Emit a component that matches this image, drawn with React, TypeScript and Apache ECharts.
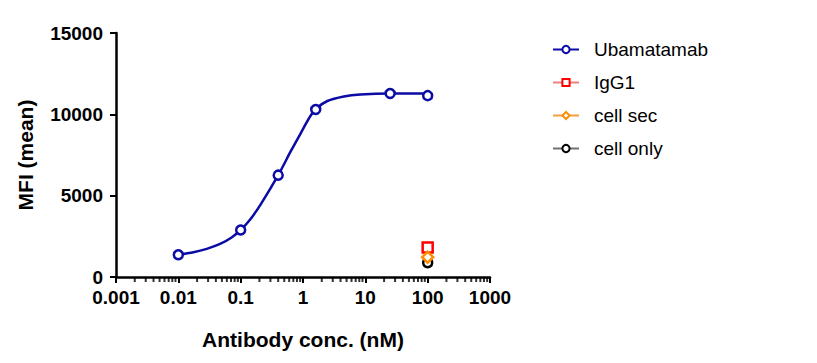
import React, { useEffect, useRef } from "react";
import * as echarts from "echarts";

// measured data points
const concentrations = [0.01, 0.1, 0.4, 1.6, 25, 100];
const ubamatamab = [1370, 2890, 6260, 10300, 11280, 11150];
const igg1 = [[100, 1820]];
const cellSec = [[100, 1220]];
const cellOnly = [[100, 880]];

// fitted curve
const fitX = [0.01, 0.0175, 0.0286, 0.0467, 0.0715, 0.1, 0.14, 0.212, 0.4, 0.64, 0.923, 1.25, 1.6, 2.46, 4.52, 8.34, 25, 100];
const fitY = [1370, 1520, 1730, 2030, 2430, 2890, 3500, 4500, 6260, 7750, 8850, 9760, 10330, 10820, 11100, 11220, 11280, 11280];

const yTicks = { min: 0, max: 15000, interval: 5000 };
const xRange = { min: 0.001, max: 1000 };
const decades = [0.001, 0.01, 0.1, 1, 10, 100];
const minorFactors = [2, 3, 4, 5, 6, 7, 8, 9];

const minorTicks: number[][] = [];
decades.forEach((d) => minorFactors.forEach((f) => minorTicks.push([+(d * f).toPrecision(2), 0])));

const FONT = "Liberation Sans, Arial, sans-serif";

export default function App() {
  const ref = useRef<HTMLDivElement>(null);
  useEffect(() => {
    if (!ref.current) return;
    const chart = echarts.init(ref.current, null, { renderer: "svg" });
    const blue = "#0b0ba6";
    chart.setOption({
      animation: false,
      backgroundColor: "#ffffff",
      textStyle: { fontFamily: FONT },
      grid: { left: 108, top: 25, width: 374, height: 249, containLabel: false },
      legend: {
        data: [
          { name: "Ubamatamab", lineStyle: { color: blue, width: 2, opacity: 1 } },
          { name: "IgG1" },
          { name: "cell sec" },
          { name: "cell only" },
        ],
        orient: "vertical",
        left: 539,
        top: 27,
        itemWidth: 26,
        itemHeight: 9,
        itemGap: 14,
        textStyle: { fontSize: 19, color: "#000", fontFamily: FONT, padding: [0, 0, 0, 10] },
      },
      xAxis: {
        type: "log",
        logBase: 10,
        min: xRange.min,
        max: xRange.max,
        name: "Antibody conc. (nM)",
        nameLocation: "middle",
        nameGap: 52,
        nameTextStyle: { fontSize: 21, fontWeight: "bold", color: "#000", fontFamily: FONT },
        axisLine: { lineStyle: { color: "#000", width: 2.5 } },
        axisTick: { show: true, length: 6, lineStyle: { color: "#000", width: 2 } },
        axisLabel: {
          fontSize: 19,
          fontWeight: "bold",
          color: "#000",
          margin: 11,
          fontFamily: FONT,
          formatter: (v: number) => String(+v.toPrecision(1)),
        },
        splitLine: { show: false },
      },
      yAxis: {
        type: "value",
        min: yTicks.min,
        max: yTicks.max,
        interval: yTicks.interval,
        name: "MFI (mean)",
        nameLocation: "middle",
        nameGap: 80,
        nameRotate: 90,
        nameTextStyle: { fontSize: 21, fontWeight: "bold", color: "#000", fontFamily: FONT },
        axisLine: { show: true, lineStyle: { color: "#000", width: 2.5 } },
        axisTick: { show: true, length: 6, lineStyle: { color: "#000", width: 2 } },
        axisLabel: {
          fontSize: 19,
          fontWeight: "bold",
          color: "#000",
          margin: 13,
          fontFamily: FONT,
          formatter: (v: number) => String(v),
        },
        splitLine: { show: false },
      },
      series: [
        {
          name: "Ubamatamab fit",
          type: "line",
          data: fitX.map((x, i) => [x, fitY[i]]),
          smooth: 0.3,
          symbol: "none",
          silent: true,
          lineStyle: { color: blue, width: 2.5 },
          z: 2,
        },
        {
          name: "Ubamatamab",
          type: "line",
          data: concentrations.map((c, i) => [c, ubamatamab[i]]),
          symbol: "circle",
          symbolSize: 9,
          lineStyle: { color: blue, width: 0, opacity: 0 },
          itemStyle: { color: "#fff", borderColor: blue, borderWidth: 2.5 },
          z: 3,
        },
        {
          name: "IgG1",
          type: "line",
          data: igg1,
          symbol: "rect",
          symbolSize: 10,
          lineStyle: { color: "#f08080", width: 2 },
          itemStyle: { color: "#fff", borderColor: "#ff0000", borderWidth: 2.5 },
          z: 4,
        },
        {
          name: "cell only",
          type: "line",
          data: cellOnly,
          symbol: "circle",
          symbolSize: 9,
          lineStyle: { color: "#707070", width: 2 },
          itemStyle: { color: "#fff", borderColor: "#000", borderWidth: 2.5 },
          z: 4,
        },
        {
          name: "cell sec",
          type: "line",
          data: cellSec,
          symbol: "diamond",
          symbolSize: 11,
          lineStyle: { color: "#f0a040", width: 2 },
          itemStyle: { color: "#fff", borderColor: "#ff8c00", borderWidth: 2.5 },
          z: 5,
        },
        {
          name: "minorTicks",
          type: "scatter",
          data: minorTicks,
          symbol: "rect",
          symbolSize: [2, 4],
          symbolOffset: [0, 3],
          clip: false,
          silent: true,
          itemStyle: { color: "#000" },
          z: 1,
        },
      ],
    });
    return () => chart.dispose();
  }, []);
  return <div ref={ref} style={{ width: 801, height: 347 }} />;
}
